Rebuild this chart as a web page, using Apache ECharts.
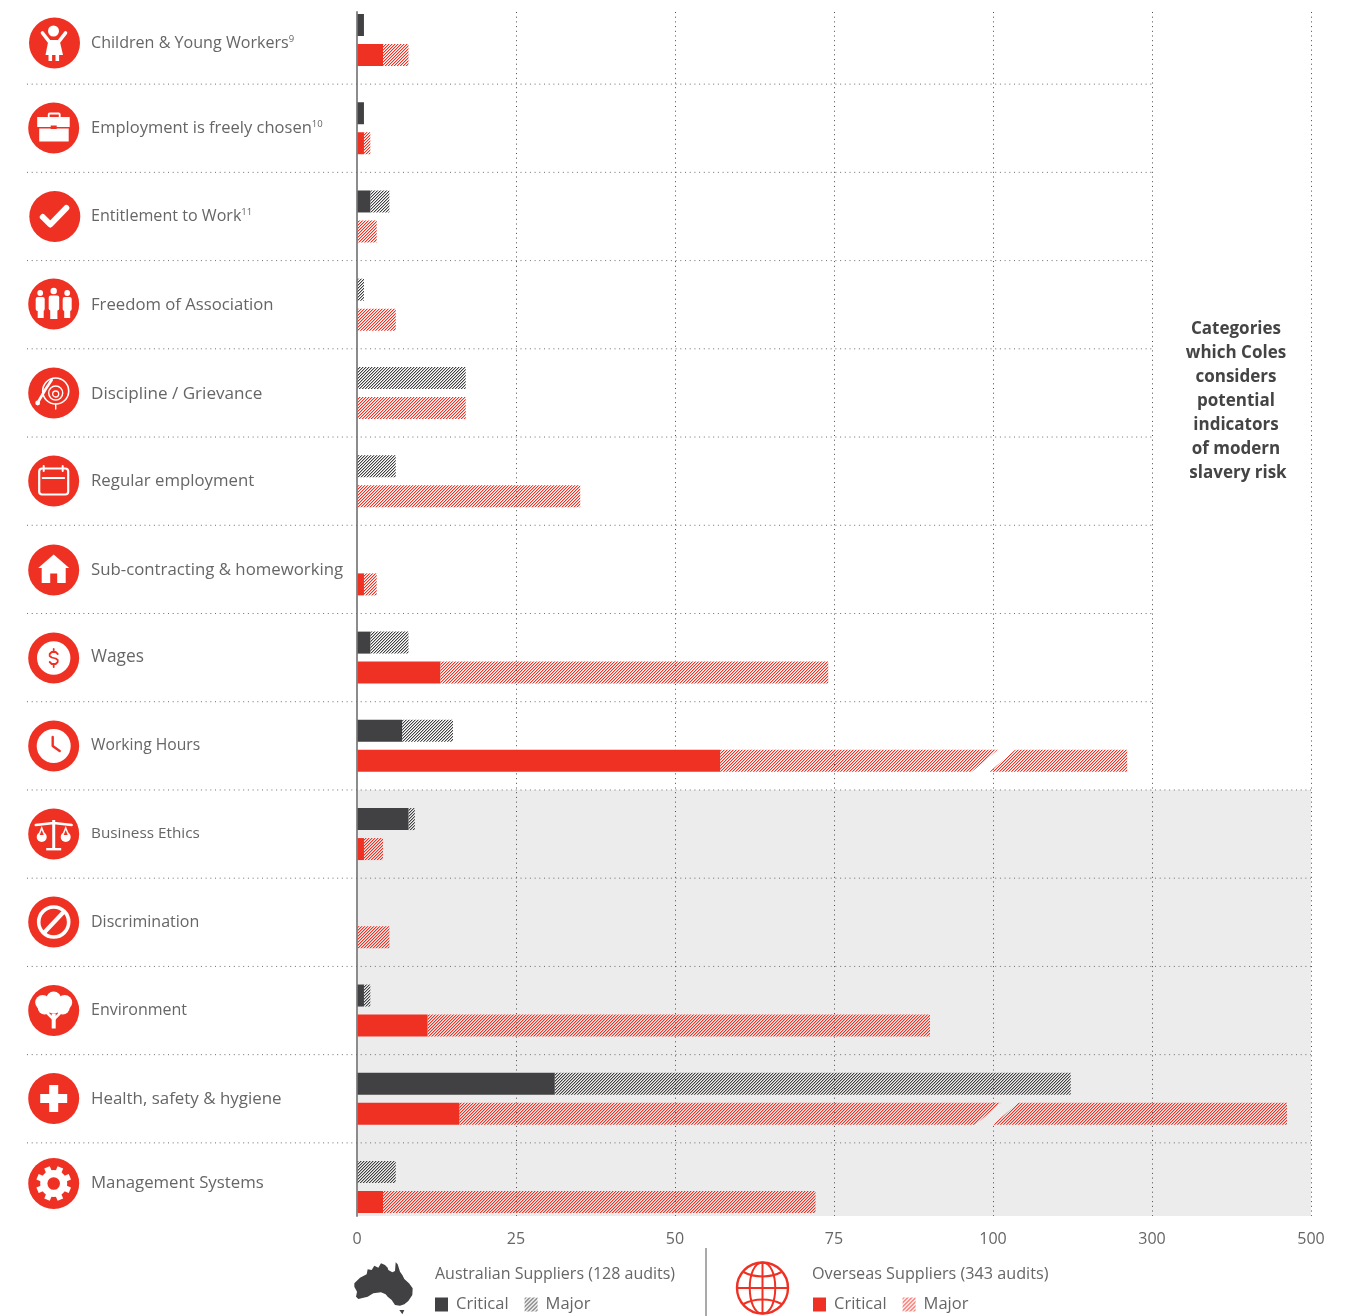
<!DOCTYPE html>
<html><head><meta charset="utf-8">
<style>html,body{margin:0;padding:0;background:#fff}#c{width:1361px;height:1316px}</style>
<script src="https://cdn.jsdelivr.net/npm/echarts@6/dist/echarts.min.js"></script>
</head><body><div id="c"></div>
<script>
// ---- data ----
const categories = ['Children & Young Workers','Employment is freely chosen','Entitlement to Work','Freedom of Association','Discipline / Grievance','Regular employment','Sub-contracting & homeworking','Wages','Working Hours','Business Ethics','Discrimination','Environment','Health, safety & hygiene','Management Systems'];
const footnotes = ['9','10','11','','','','','','','','','','',''];
const ausCritical = [1,1,2,0,0,0,0,2,7,8,0,1,31,0];
const ausMajor = [0,0,3,1,17,6,0,6,8,1,0,1,166,6];
const osCritical = [4,1,0,0,0,0,1,13,57,1,0,11,16,4];
const osMajor = [4,1,3,6,17,35,2,61,211,3,5,79,453,68];
const tickLabels = ['0','25','50','75','100','300','500'];
const breakRows = [8,12];
const breakValues = [100,104];
const sideNote = ['Categories','which Coles','considers','potential','indicators','of modern','slavery risk'];
const ausTitle = 'Australian Suppliers (128 audits)';
const osTitle = 'Overseas Suppliers (343 audits)';

// ---- layout and style ----
const RED='#ef3124', DARK='#414042', TXT='#666666', BAND='#ececec', WHITE='#ffffff';
const FONT='"Open Sans", sans-serif';
const iconY=[43,128,216.5,304,393,481,570,658,746,834,922,1010.5,1098.5,1183.5];
const iconX=[54.5,53.7,54.8,53.7,53.7,53.7,53.7,53.7,53.7,53.7,53.7,53.7,53.7,53.7];
const labelY=[43,128,216,305,394,481,570,657,746,834,922,1010,1099,1183];
const labelSize=[16.1,16.5,16.1,16.7,17.1,16.8,16.8,17.3,15.7,15.3,16,16,16.9,16.8];
const noteX=[1236,1236,1236,1236,1236,1236,1238];
const AX={left:357,width:954,max:150,interval:25};

// the axis is broken above 100: 100-500 is compressed eight times
const toAxis=v=>v<=100?v:100+(v-100)/8;
const segment=(base,add)=>base.map((b,i)=>+(toAxis(b+add[i])-toAxis(b)).toFixed(4));

function hatch(color,size,second){
  const c=document.createElement('canvas');c.width=c.height=size;
  const g=c.getContext('2d');
  const m=color.match(/\w\w/g).map(h=>parseInt(h,16));
  const im=g.createImageData(size,size);
  for(let y=0;y<size;y++)for(let x=0;x<size;x++){
    const k=(x+y)%size;
    const a=k==0?255:(k==1?second:0);
    const o=(y*size+x)*4;im.data[o]=m[0];im.data[o+1]=m[1];im.data[o+2]=m[2];im.data[o+3]=a;
  }
  g.putImageData(im,0,0);
  return {image:c,repeat:'repeat'};
}
const darkHatch=hatch(DARK,3,90), redHatch=hatch(RED,3,90);
const darkSwatch=hatch(DARK,4,90), redSwatch=hatch(RED,4,90);

// ---- icon primitives (local px round the icon centre) ----
const C=(x,y,r,f)=>({type:'circle',shape:{cx:x,cy:y,r:r},style:{fill:f||WHITE}});
const O=(x,y,r,w,s)=>({type:'circle',shape:{cx:x,cy:y,r:r},style:{fill:'none',stroke:s||WHITE,lineWidth:w}});
const R=(x,y,w,h,f,r)=>({type:'rect',shape:{x:x,y:y,width:w,height:h,r:r||0},style:{fill:f||WHITE}});
const S=(x,y,w,h,lw,r)=>({type:'rect',shape:{x:x,y:y,width:w,height:h,r:r||0},style:{fill:'none',stroke:WHITE,lineWidth:lw}});
const P=(pts,f)=>({type:'polygon',shape:{points:pts},style:{fill:f||WHITE}});
const L=(pts,w,s)=>({type:'polyline',shape:{points:pts},style:{fill:'none',stroke:s||WHITE,lineWidth:w,lineCap:'round',lineJoin:'round'}});
function gear(){
  const out=[];
  for(let i=0;i<8;i++){
    const a=i*Math.PI/4+Math.PI/8,c=Math.cos(a),s=Math.sin(a);
    out.push({type:'line',shape:{x1:c*9,y1:s*9,x2:c*17.5,y2:s*17.5},style:{stroke:WHITE,lineWidth:6}});
  }
  out.push(C(0,0,13.5),C(0,0,6.3,RED));
  return out;
}
const icons=[
  [C(-1,-12,5.5),L([[-12,-10],[-5,-1],[4,-1],[11,-10]],3.6),P([[-6,-3],[5,-3],[8.5,12],[-9,12]]),R(-6,12,3.6,6),R(1,12,3.6,6)],
  [S(-5,-14.5,11,5,1.8,1),R(-16.5,-11,32.5,10),R(-14.5,0.5,29.5,13),R(-3,-2.5,6,3.5,RED)],
  [L([[-12,0.5],[-4.5,8],[11.5,-8.5]],6)],
  [C(-13.5,-11,2.9),C(0,-13,3.2),C(13.5,-11,2.9),R(-18,-7,9,14,WHITE,2),R(-16,5,6,9),R(-5,-8.5,10.5,15,WHITE,2),R(-3.5,5,7.2,10),R(9,-7,9,14,WHITE,2),R(10.5,5,6,9)],
  [O(2,-2,13,1.6),O(2,0,7,1.4),O(2,1,3,1.3),L([[-15,8],[-8,-4],[-2,-13]],2.6),C(-16,10,2.4),L([[2,11],[2,16]],1.4)],
  [S(-14.5,-12.5,29,26,2.2,3),L([[-11,-3],[10.5,-3]],2),L([[-10,-15],[-10,-10]],2),L([[9,-15],[9,-10]],2)],
  [P([[-15.5,-2],[0,-15.5],[15.5,-2]]),R(-12,-3,24,16),R(-3.5,3.5,7,9.5,RED)],
  [C(0,0,16.7),L([[4,-4],[2,-6],[-2,-6],[-4,-4],[-4,-2],[-2,-0.5],[2,0.5],[4,2],[4,4],[2,6],[-2,6],[-4,4]],1.8,RED),L([[0,-9],[0,-6]],1.8,RED),L([[0,6],[0,9]],1.8,RED)],
  [C(0,0,17),L([[-1,-9],[-1,0],[6,5]],2.4,RED)],
  [R(-1.5,-14,3,28),R(-7.5,14,15,2.4),L([[-18,-9],[0,-11],[18,-9]],2.4),P([[-12,-8],[-16,2],[-8,2]]),C(-12,3,5),P([[-12,-4],[-14,1],[-10,1]],RED),P([[12,-8],[16,2],[8,2]]),C(12,3,5),P([[12,-4],[14,1],[10,1]],RED)],
  [O(0,0,15,3.6),L([[-9,10],[9,-9]],4)],
  [C(-11,-8,7.5),C(0,-11.5,7.5),C(11,-8,7.5),C(-9,-3,7),C(9,-3,7),C(0,-5,8),R(-2,3,4,15),L([[-6,3],[0,9],[6,3]],2.6)],
  [R(-4.5,-13.5,9,27),R(-13.5,-4.5,27,9)],
  gear()
];

// ---- series data ----
const mkBar=(name,stack,color,vals)=>({name:name,type:'bar',xAxisIndex:1,yAxisIndex:1,stack:stack,barWidth:22,barGap:'36.36%',itemStyle:{color:color},data:vals,silent:true,animation:false,z:3});

const option={
  animation:false,
  textStyle:{fontFamily:FONT},
  grid:[
    {left:AX.left,width:AX.width,top:12,height:1204,outerBoundsMode:'none'},
    {left:AX.left+0.6,width:AX.width,top:-4.1,height:1235.2,outerBoundsMode:'none'}
  ],
  xAxis:[
    {gridIndex:0,type:'value',min:0,max:AX.max,interval:AX.interval,
     axisLine:{show:false},axisTick:{show:false},
     axisLabel:{margin:15,color:TXT,fontSize:16,fontFamily:FONT,hideOverlap:false,formatter:(v)=>tickLabels[Math.round(v/AX.interval)]},
     splitLine:{show:true,lineStyle:{color:'#4a4a4a',width:1,type:[1,3.7]}}},
    {gridIndex:1,type:'value',min:0,max:AX.max,interval:AX.interval,show:false}
  ],
  yAxis:[
    {gridIndex:0,type:'value',min:0,max:1,axisLine:{show:true,onZero:false,lineStyle:{color:'#8c8c8c',width:2}},axisTick:{show:false},axisLabel:{show:false},splitLine:{show:false}},
    {gridIndex:1,type:'category',inverse:true,data:categories,show:false}
  ],
  legend:[
    {left:435,top:1296,padding:0,itemWidth:13,itemHeight:14,itemGap:16,selectedMode:false,icon:'rect',
     textStyle:{color:TXT,fontSize:16.5,fontFamily:FONT,padding:[0,0,0,3]},
     formatter:n=>n.split(' ').pop(),
     data:[{name:'Australian Critical',itemStyle:{color:DARK}},{name:'Australian Major',itemStyle:{color:darkSwatch}}]},
    {left:813,top:1296,padding:0,itemWidth:13,itemHeight:14,itemGap:16,selectedMode:false,icon:'rect',
     textStyle:{color:TXT,fontSize:16.5,fontFamily:FONT,padding:[0,0,0,3]},
     formatter:n=>n.split(' ').pop(),
     data:[{name:'Overseas Critical',itemStyle:{color:RED}},{name:'Overseas Major',itemStyle:{color:redSwatch}}]}
  ],
  graphic:{elements:[
    {type:'rect',z:-1,silent:true,shape:{x:AX.left,y:790,width:AX.width,height:426},style:{fill:BAND}},
    {type:'text',silent:true,x:435,y:1266,style:{text:ausTitle,font:'16px '+FONT,fill:TXT}},
    {type:'text',silent:true,x:812,y:1266,style:{text:osTitle,font:'16.2px '+FONT,fill:TXT}},
    {type:'line',silent:true,shape:{x1:706,y1:1248,x2:706,y2:1316},style:{stroke:'#555555',lineWidth:1}},
    // Australia
    {type:'group',x:345,y:1255,scaleX:1/3,scaleY:1/3,silent:true,children:[
      {type:'polygon',shape:{points:[[28,85],[45,68],[65,58],[68,43],[80,45],[88,32],[100,38],[108,25],[120,30],[128,38],[130,45],[142,52],[150,48],[152,22],[158,28],[165,50],[172,60],[178,72],[192,85],[203,100],[202,120],[190,138],[178,148],[165,152],[150,150],[140,135],[128,125],[122,118],[108,112],[85,115],[68,125],[40,132],[33,125],[36,110],[28,95]]},style:{fill:DARK}},
      {type:'polygon',shape:{points:[[163,165],[178,165],[172,178]]},style:{fill:DARK}}
    ]},
    // globe
    {type:'group',x:762.5,y:1288,silent:true,children:[
      {type:'circle',shape:{cx:0,cy:0,r:25.5},style:{fill:'none',stroke:RED,lineWidth:2.4}},
      {type:'bezierCurve',shape:{x1:0,y1:-25.5,cpx1:-17,cpy1:-25.5,cpx2:-17,cpy2:25.5,x2:0,y2:25.5},style:{fill:'none',stroke:RED,lineWidth:2}},
      {type:'bezierCurve',shape:{x1:0,y1:-25.5,cpx1:17,cpy1:-25.5,cpx2:17,cpy2:25.5,x2:0,y2:25.5},style:{fill:'none',stroke:RED,lineWidth:2}},
      {type:'line',shape:{x1:0,y1:-25.5,x2:0,y2:25.5},style:{stroke:RED,lineWidth:2}},
      {type:'line',shape:{x1:-25.5,y1:0,x2:25.5,y2:0},style:{stroke:RED,lineWidth:2}},
      {type:'bezierCurve',shape:{x1:-19,y1:-16,cpx1:-8,cpy1:-10,cpx2:8,cpy2:-10,x2:19,y2:-16},style:{fill:'none',stroke:RED,lineWidth:2}},
      {type:'bezierCurve',shape:{x1:-19,y1:16,cpx1:-8,cpy1:10,cpx2:8,cpy2:10,x2:19,y2:16},style:{fill:'none',stroke:RED,lineWidth:2}}
    ]}
  ].concat(sideNote.map((s,i)=>({type:'text',silent:true,x:noteX[i],y:329+24*i,style:{text:s,font:'700 17px '+FONT,fill:'#444444',align:'center',verticalAlign:'middle'}})))},
  series:[
    mkBar('Australian Critical','aus',DARK,ausCritical),
    mkBar('Australian Major','aus',darkHatch,segment(ausCritical,ausMajor)),
    mkBar('Overseas Critical','os',RED,osCritical),
    mkBar('Overseas Major','os',redHatch,segment(osCritical,osMajor)),
    // row separators: dotted, running from the icon column to the note column / right edge
    {type:'custom',name:'separators',xAxisIndex:1,yAxisIndex:1,silent:true,z:1,
     data:categories.slice(1).map((c,i)=>[0,i+1]),
     renderItem:(p,api)=>{
       const row=api.value(1),pt=api.coord([0,row]),h=api.size([0,1])[1];
       const end=(row>=9?api.coord([AX.max,row])[0]:api.coord([125,row])[0])-0.6;
       return {type:'line',shape:{x1:27,y1:pt[1]-h/2,x2:end,y2:pt[1]-h/2},style:{stroke:'#6e6e6e',lineWidth:1,lineDash:[1,3.7]}};
     }},
    // axis-break cuts through the two long overseas bars
    {type:'custom',name:'breaks',xAxisIndex:1,yAxisIndex:1,silent:true,z:5,
     data:breakRows.map((r,i)=>[toAxis(breakValues[i]),r]),
     renderItem:(p,api)=>{
       const row=api.value(1),pt=api.coord([api.value(0),row]);
       const cy=pt[1]+15,hw=12,sk=14,gw=8.8;
       const fill=row>=9?BAND:WHITE;
       return {type:'polygon',shape:{points:[[pt[0]-sk-gw,cy+hw],[pt[0]-sk+gw,cy+hw],[pt[0]+sk+gw,cy-hw],[pt[0]+sk-gw,cy-hw]]},style:{fill:fill}};
     }},
    // icon and label column, one group per category
    {type:'custom',name:'rows',xAxisIndex:1,yAxisIndex:1,silent:true,z:4,
     data:categories.map((c,i)=>[0,i]),
     renderItem:(p,api)=>{
       const i=p.dataIndex;
       const t=footnotes[i]?('{a|'+categories[i]+'}{s|'+footnotes[i]+'}'):('{a|'+categories[i]+'}');
       return {type:'group',children:[
         {type:'group',x:iconX[i],y:iconY[i],children:[C(0,0,25.5,RED)].concat(icons[i])},
         {type:'text',x:91,y:labelY[i],style:{text:t,verticalAlign:'middle',align:'left',
           rich:{a:{fontFamily:FONT,fontSize:labelSize[i],fill:TXT,color:TXT},s:{fontFamily:FONT,fontSize:9.5,fill:TXT,color:TXT,verticalAlign:'top',padding:[0,0,7,0]}}}}
       ]};
     }}
  ]
};
echarts.init(document.getElementById('c'),null,{renderer:'canvas'}).setOption(option);
</script></body></html>
